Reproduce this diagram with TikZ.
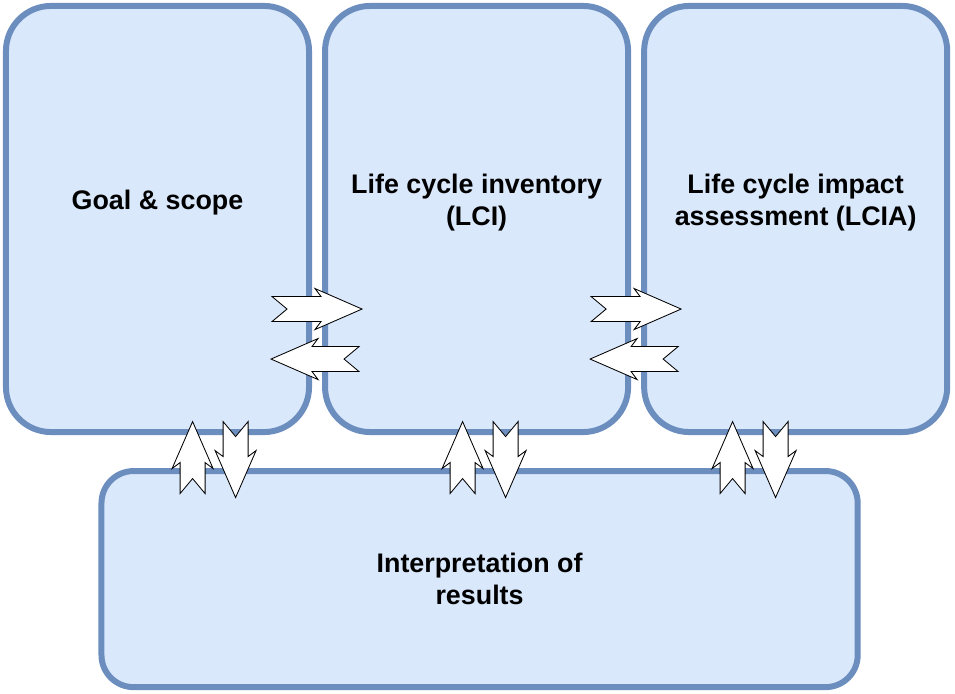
\documentclass[tikz,border=0pt]{standalone}
\usepackage{fontspec}
\setmainfont{Liberation Sans}
\usetikzlibrary{positioning, calc}

\definecolor{boxfill}{HTML}{DAE8FC}
\definecolor{boxline}{HTML}{6C8EBF}

\tikzstyle{stage}     = [rectangle, rounded corners=1.125cm, minimum width=7.575cm, minimum height=10.65cm, outer sep=0pt, draw=boxline, fill=boxfill, line width=4.25pt]
\tikzstyle{stagetext} = [font=\bfseries\fontsize{19.1}{22.7}\selectfont, align=center, yshift=0.42cm]
\tikzstyle{result}    = [stage, rounded corners=0.8cm, minimum width=18.9cm, minimum height=5.4cm, font=\bfseries\fontsize{19.1}{22.7}\selectfont, align=center]
\tikzstyle{fat}       = [draw=black, fill=white, line width=0.6pt, line join=miter]

\tikzset{
  pics/barbarrow/.style={code={
    \draw[fat] (-#1,12.5) -- (#1-41,12.5) -- (#1-47,20.5) -- (#1,0) -- (#1-47,-20.5) -- (#1-41,-12.5) -- (-#1,-12.5) -- (-#1+15,0) -- cycle;
  }}
}

\begin{document}
\begin{tikzpicture}[x=0.025cm, y=0.025cm]

\useasboundingbox (0,0) rectangle (955,693);

\node (goal)   [stage, label={[stagetext]center:Goal \& scope}] at (157.5,474) {};
\node (lci)    [stage, right=0.4cm of goal, label={[stagetext]center:Life cycle inventory\\(LCI)}] {};
\node (lcia)   [stage, right=0.4cm of lci, label={[stagetext]center:Life cycle impact\\assessment (LCIA)}] {};
\node (interp) [result, below=0.975cm of lci, xshift=0.075cm] {Interpretation of\\results};

% arrows between the upper stages
\foreach \a/\b in {goal/lci, lci/lcia} {
  \coordinate (gap) at ($(\a.south east)!0.5!(\b.south west)$);
  \pic at ($(gap)+(0,123)$) {barbarrow=45};
  \pic[rotate=180] at ($(gap)+(-2,73)$) {barbarrow=44};
}

% arrows to and from the interpretation
\foreach \dx in {-287,-17,253} {
  \pic[rotate=90]  at ($(interp.north)+(\dx,13.5)$)    {barbarrow=36};
  \pic[rotate=-90] at ($(interp.north)+(\dx+43,11.5)$) {barbarrow=38};
}

\end{tikzpicture}
\end{document}
